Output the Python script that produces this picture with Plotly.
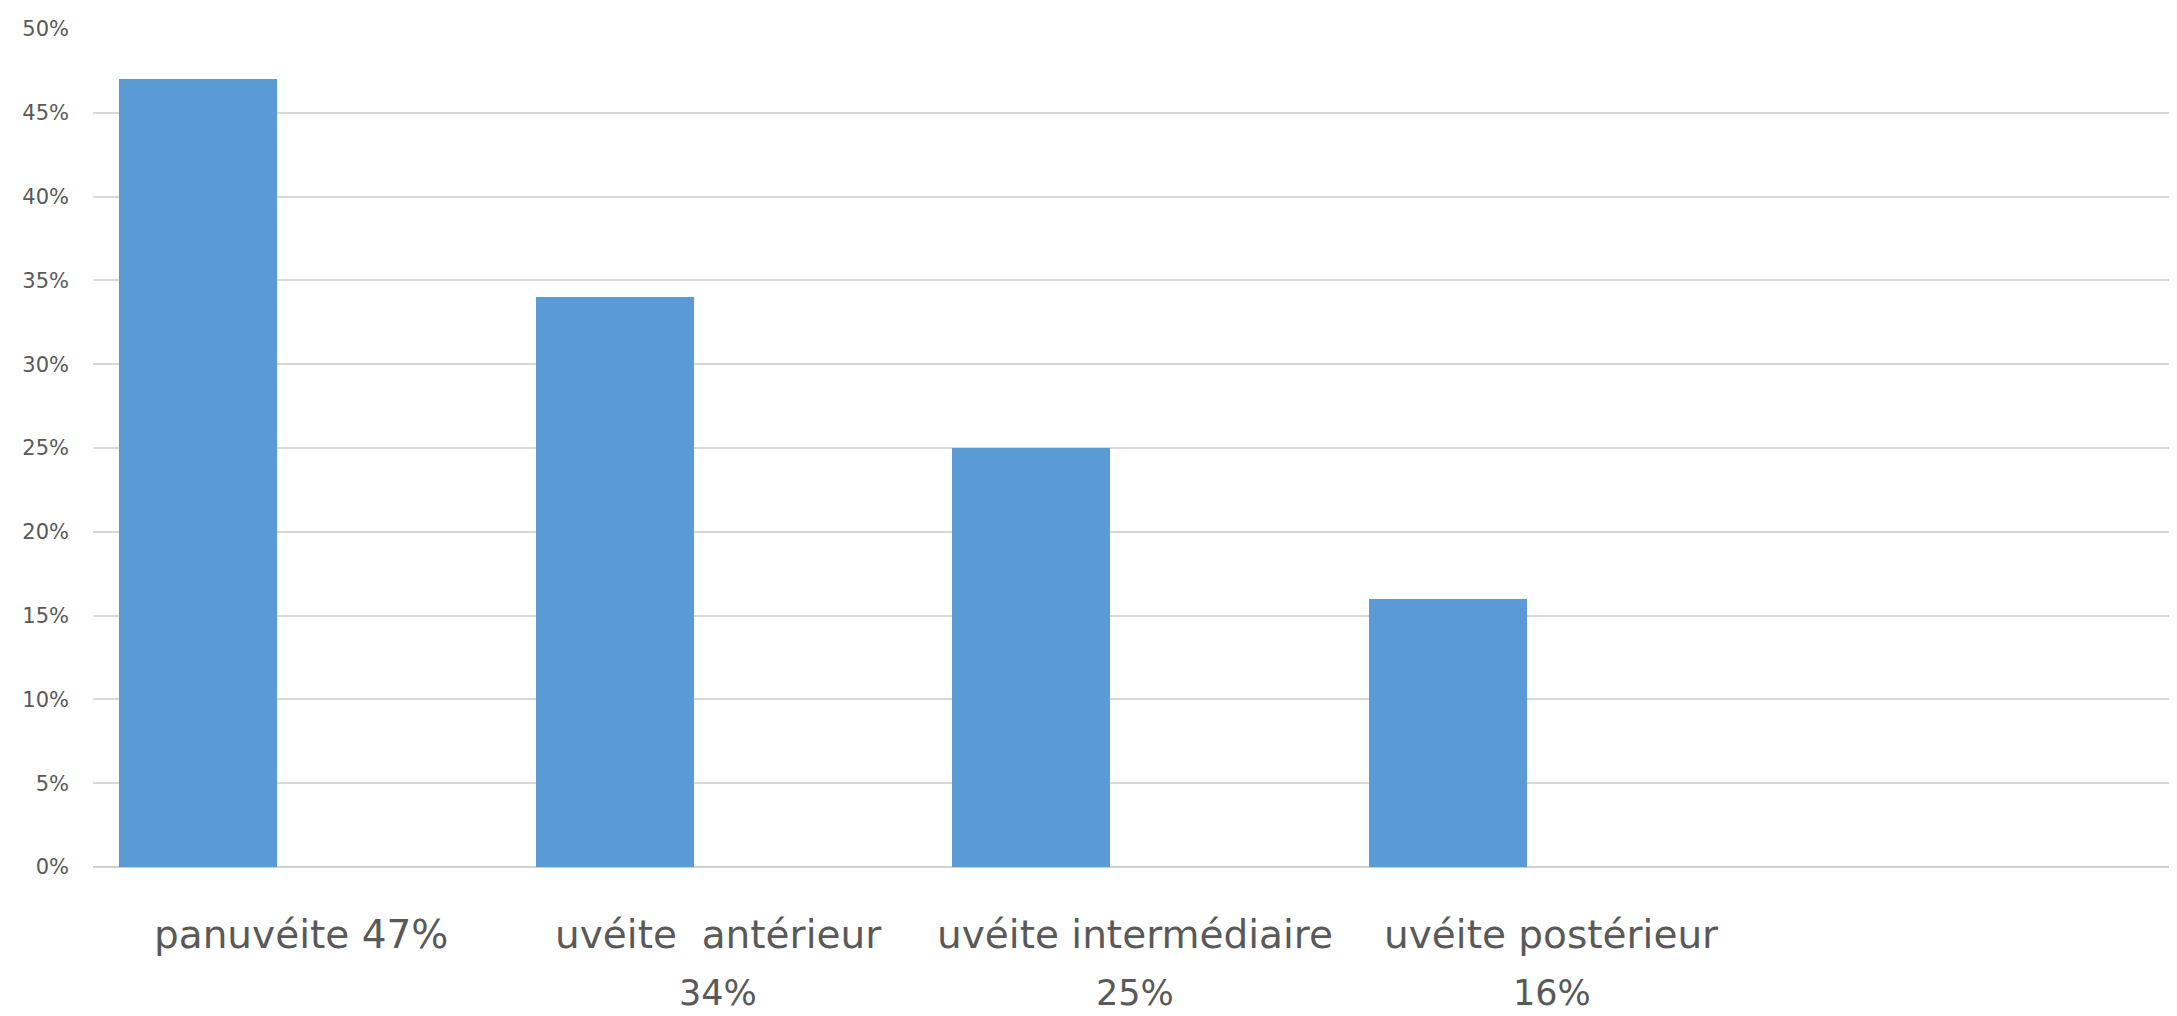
import plotly.graph_objects as go

# Data
categories = ["panuvéite", "uvéite antérieur", "uvéite intermédiaire", "uvéite postérieur"]
values = [0.47, 0.34, 0.25, 0.16]
label_line1 = ["panuvéite 47%", "uvéite\u00a0\u00a0antérieur", "uvéite intermédiaire", "uvéite postérieur"]
label_line2 = ["", "34%", "25%", "16%"]
n_slots = 5
y_ticks = [0, 0.05, 0.10, 0.15, 0.20, 0.25, 0.30, 0.35, 0.40, 0.45, 0.50]

x_pos = list(range(len(values)))

fig = go.Figure()
fig.add_trace(go.Bar(
    x=x_pos,
    y=values,
    width=0.379,
    offset=-0.438,
    marker=dict(color="#5b9bd5", line=dict(width=0)),
    hovertext=categories,
    showlegend=False,
))

font1 = dict(family="DejaVu Sans, sans-serif", size=39, color="#595959")
font2 = dict(family="DejaVu Sans, sans-serif", size=35, color="#595959")
for i, (l1, l2) in enumerate(zip(label_line1, label_line2)):
    fig.add_annotation(x=i, y=0, yref="y", text=l1, showarrow=False,
                       yshift=-67, font=font1, xanchor="center", yanchor="middle")
    if l2:
        fig.add_annotation(x=i, y=0, yref="y", text=l2, showarrow=False, borderpad=0,
                           yshift=-126, font=font2, xanchor="center", yanchor="middle")

fig.update_layout(
    width=2169, height=1008,
    margin=dict(l=85, r=0, t=21, b=149),
    plot_bgcolor="white", paper_bgcolor="white",
    bargap=0,
)
fig.update_xaxes(
    range=[-0.5, n_slots - 0.5],
    showticklabels=False, showgrid=False, zeroline=False,
    showline=False, ticks="",
)
fig.update_yaxes(
    range=[0, 0.5],
    tickvals=y_ticks,
    tickformat=".0%",
    showgrid=True, gridcolor="#d9d9d9", gridwidth=2,
    zeroline=True, zerolinecolor="#d0d0d0", zerolinewidth=2,
    showline=False, ticks="",
    ticklabelstandoff=23,
    tickfont=dict(family="DejaVu Sans, sans-serif", size=21, color="#595959"),
)

fig.write_html("out.html")
